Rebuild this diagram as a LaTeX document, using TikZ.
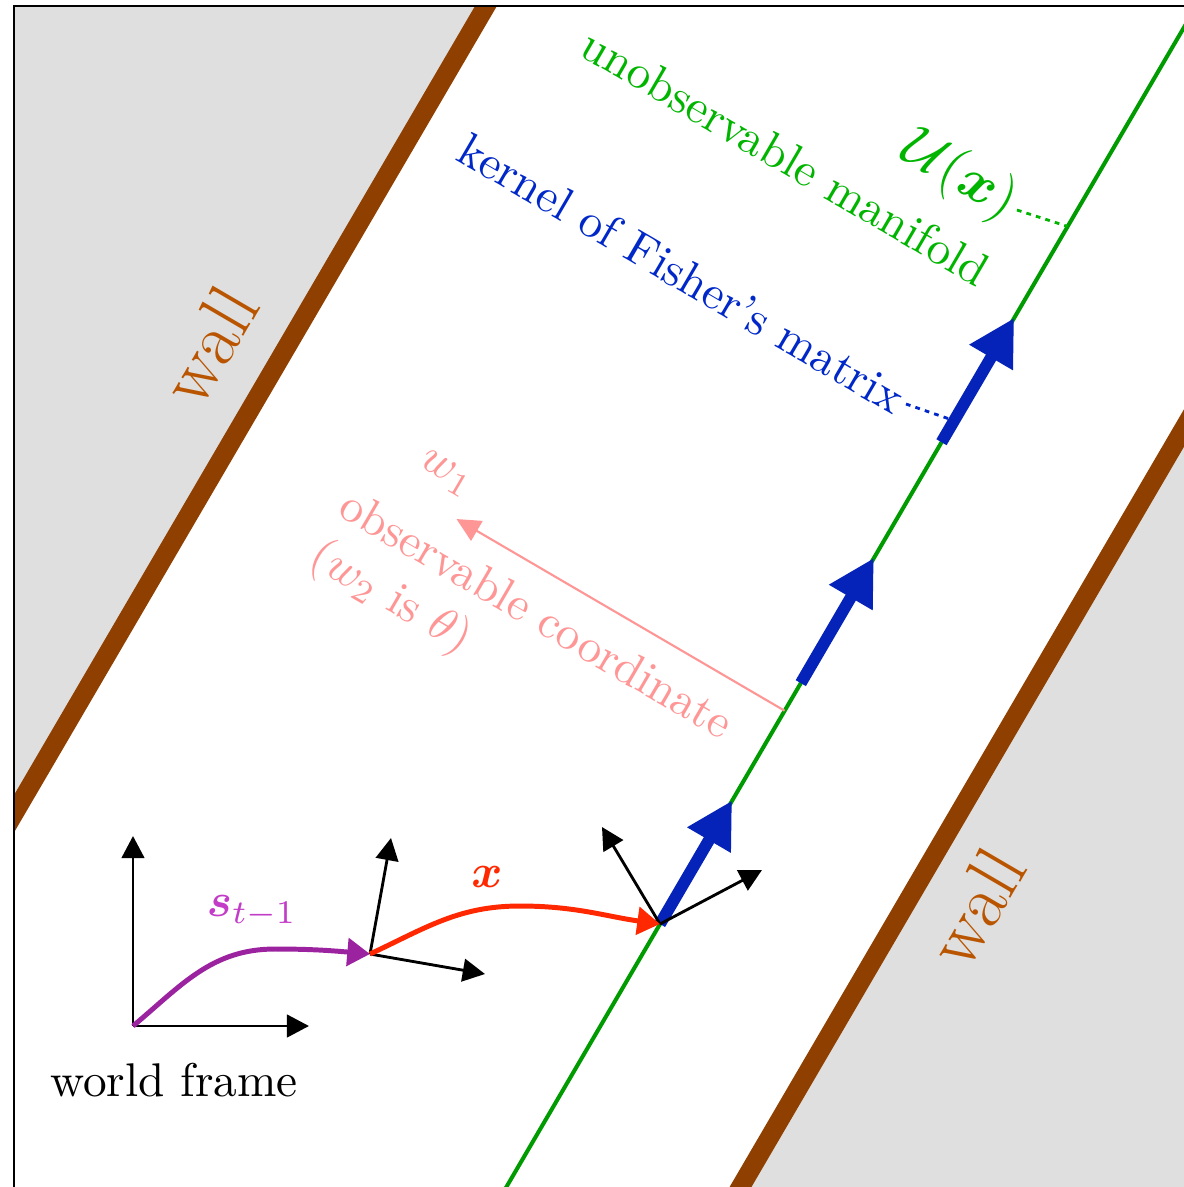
\documentclass[tikz,border=0pt]{standalone}
\usepackage{bm}
\usetikzlibrary{arrows.meta}
\definecolor{wallc}{RGB}{143,64,0}
\definecolor{walltext}{RGB}{185,85,0}
\definecolor{bggray}{RGB}{223,223,223}
\definecolor{mangreen}{RGB}{0,155,0}
\definecolor{mantext}{RGB}{0,180,0}
\definecolor{kerblue}{RGB}{5,35,185}
\definecolor{kertext}{RGB}{0,40,200}
\definecolor{xred}{RGB}{255,40,0}
\definecolor{spurple}{RGB}{155,35,160}
\definecolor{stext}{RGB}{195,60,200}
\definecolor{obspink}{RGB}{255,150,150}
\begin{document}
\begin{tikzpicture}[x=0.2115pt,y=-0.2115pt,
  frameaxis/.style={line width=0.6pt,-{Triangle[length=4.7pt,width=4.8pt]}},
  kerarrow/.style={kerblue,line width=2.5pt,-{Triangle[length=9.7pt,width=10pt]}},
  wallline/.style={wallc,line width=4pt},
  walllabel/.style={walltext,font=\fontsize{16}{19}\selectfont,rotate=59.7},
  pathcurve/.style={line width=1.05pt,-{Triangle[length=4.8pt,width=5.8pt]}},
  dotlink/.style={line width=0.6pt,dash pattern=on 1pt off 1.1pt},
  slopedtext/.style={rotate=-30.3}]
\useasboundingbox (0,0) rectangle (1184,1187);
\clip (0,0) rectangle (1184,1187);
% background, walls, manifold
\begin{scope}
  \clip (14,6) rectangle (1200,1200);
  \fill[bggray] (-200,-100) -- (547.9,-100) -- (-94.8,1000) -- (-200,1000) -- cycle;
  \fill[bggray] (1258.8,300) -- (1400,300) -- (1400,1300) -- (674.5,1300) -- cycle;
  \coordinate (wLa) at (547.9,-100);
  \coordinate (wLb) at (-94.8,1000);
  \coordinate (wRa) at (1258.8,300);
  \coordinate (wRb) at (674.5,1300);
  \draw[wallline] (wLa) -- (wLb);
  \draw[wallline] (wRa) -- (wRb);
  \coordinate (gA) at (498.6,1200.3);
  \coordinate (gB) at (1215,-25.7);
  \draw[mangreen,line width=0.85pt] (gA) -- (gB);
\end{scope}
\coordinate (bL) at (14,1200);
\coordinate (bC) at (14,6);
\coordinate (bT) at (1200,6);
\draw[line width=0.45pt] (bL) -- (bC) -- (bT);
% labels
\node[walllabel] (wallL) at (209,345) {wall};
\node[walllabel] (wallR) at (976,907) {wall};
\node[mantext,slopedtext] (unobs) at (786,157) {unobservable manifold};
\node[mantext,slopedtext,anchor=east,inner sep=1pt,font=\large] (ux) at (1017,210) {$\mathcal{U}(\bm{x})$};
\node[kertext,slopedtext,anchor=east,inner sep=1pt] (kern) at (906,404) {kernel of Fisher's matrix};
\node[obspink,slopedtext] (w1) at (446,474) {$w_1$};
\node[obspink,slopedtext,align=left] (obs) at (520,643) {observable coordinate\\($w_2$ is $\theta$)};
% coordinates
\coordinate (W) at (133,1026);
\coordinate (Wx) at (309,1026);
\coordinate (Wy) at (133,836);
\coordinate (M) at (370,954);
\coordinate (Mx) at (485,974);
\coordinate (My) at (391,838);
\coordinate (O) at (660,924);
\coordinate (Ox) at (762,870);
\coordinate (Oy) at (602,827);
\coordinate (k1b) at (732.1,800.5);
\coordinate (k2a) at (800.8,683.1);
\coordinate (k2b) at (873.9,557.9);
\coordinate (k3a) at (941.5,442.2);
\coordinate (k3b) at (1014.2,317.9);
\coordinate (kdot) at (954.1,420.6);
\coordinate (udot) at (1067.6,226.4);
\coordinate (pA) at (784.6,710.7);
\coordinate (pB) at (456.5,519);
\coordinate (sPeak) at (275,949);
\coordinate (xPeak) at (520,906);
% connectors
\draw[obspink,line width=0.45pt,-{Triangle[length=5pt,width=4.8pt]}] (pA) -- (pB);
\draw[kertext,dotlink] (kern.east) -- (kdot);
\draw[mantext,dotlink] (ux.east) -- (udot);
\draw[kerarrow] (O) -- (k1b);
\draw[kerarrow] (k2a) -- (k2b);
\draw[kerarrow] (k3a) -- (k3b);
\draw[frameaxis] (W) -- (Wx);
\draw[frameaxis] (W) -- (Wy);
\draw[frameaxis] (M) -- (Mx);
\draw[frameaxis] (M) -- (My);
\draw[frameaxis] (O) -- (Ox);
\draw[frameaxis] (O) -- (Oy);
\draw[spurple,pathcurve] (W) to[out=40,in=180] (sPeak) to[out=0,in=175] (M);
\draw[xred,pathcurve] (M) to[out=25,in=180] (xPeak) to[out=0,in=172] (O);
\node[stext] (slab) at (252,911) {$\bm{s}_{t-1}$};
\node[xred] (xlab) at (487,877) {$\bm{x}$};
\node (wf) at (174,1080) {world frame};
\end{tikzpicture}
\end{document}
